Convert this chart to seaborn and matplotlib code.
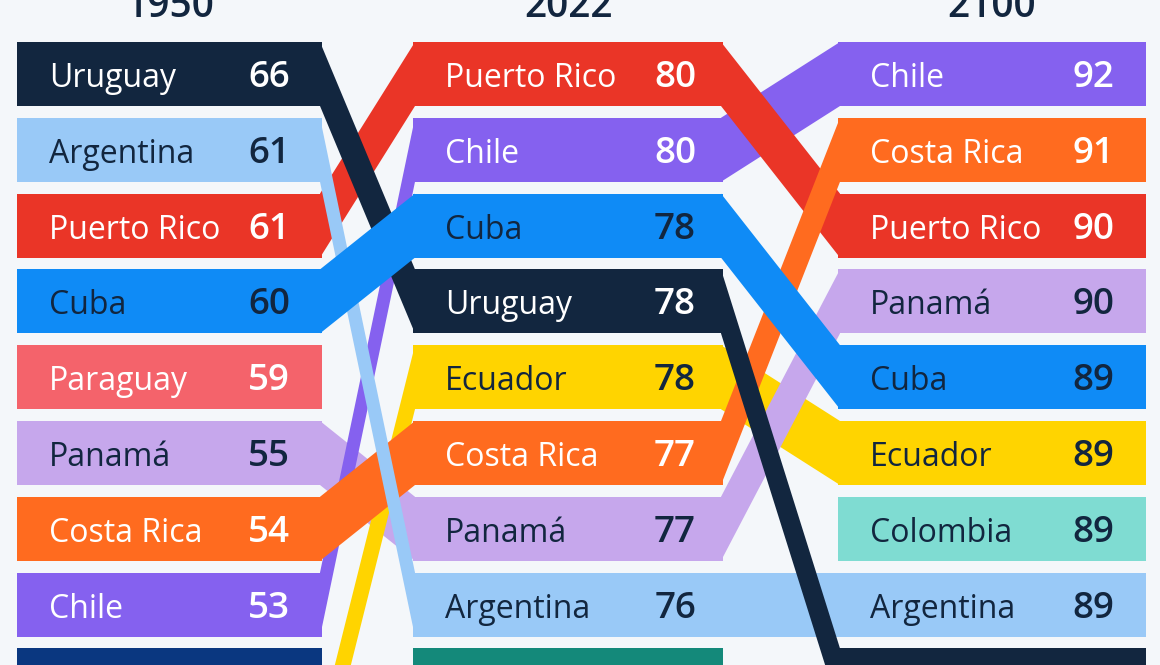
import matplotlib
matplotlib.use("Agg")
import matplotlib.pyplot as plt
import seaborn as sns

# ---------------- data ----------------
years = ["1950", "2022", "2100"]

countries_1950 = ["Uruguay", "Argentina", "Puerto Rico", "Cuba", "Paraguay",
                  "Panamá", "Costa Rica", "Chile", "Venezuela", "Ecuador"]
values_1950 = [66, 61, 61, 60, 59, 55, 54, 53, 51, 49]

countries_2022 = ["Puerto Rico", "Chile", "Cuba", "Uruguay", "Ecuador",
                  "Costa Rica", "Panamá", "Argentina", "México"]
values_2022 = [80, 80, 78, 78, 78, 77, 77, 76, 75]

countries_2100 = ["Chile", "Costa Rica", "Puerto Rico", "Panamá", "Cuba",
                  "Ecuador", "Colombia", "Argentina", "Uruguay"]
values_2100 = [92, 91, 90, 90, 89, 89, 89, 89, 88]

# ---------------- style ----------------
country_colors = {
    "Uruguay": "#12263f",
    "Argentina": "#99c9f7",
    "Puerto Rico": "#ea3527",
    "Cuba": "#0f8bf6",
    "Paraguay": "#f4636b",
    "Panamá": "#c6a7ec",
    "Costa Rica": "#ff6b1f",
    "Chile": "#8561ef",
    "Venezuela": "#0a3780",
    "Ecuador": "#ffd400",
    "Colombia": "#7fdcd2",
    "México": "#14897a",
}
dark_text_countries = {"Argentina", "Cuba", "Panamá", "Ecuador", "Colombia"}
DARK = "#12263f"
BG = "#f4f7fa"

# band stacking order per gap (bottom -> top)
gap_orders = [
    ["Panamá", "Ecuador", "Chile", "Costa Rica", "Puerto Rico", "Argentina", "Uruguay", "Cuba"],
    ["Chile", "Argentina", "Ecuador", "Puerto Rico", "Panamá", "Costa Rica", "Cuba", "Uruguay"],
]

sns.set_theme(style="white")
plt.rcParams["font.family"] = ["Open Sans", "DejaVu Sans"]

W, H = 1160, 665
fig = plt.figure(figsize=(W / 100, H / 100), dpi=100)
fig.patch.set_facecolor(BG)
ax = fig.add_axes([0, 0, 1, 1])
ax.set_facecolor(BG)

pitch = 75.8          # px per row
c0 = 74.0             # px centre of first row
y_bottom = (H - c0) / pitch
ax.set_xlim(0, W)
ax.set_ylim(y_bottom, (0 - c0) / pitch)
ax.axis("off")

col_left = [17, 413, 838]
col_width = [305, 310, 308]
value_margin = [32, 27, 32]
box_h = 64 / pitch

columns = [(countries_1950, values_1950), (countries_2022, values_2022),
           (countries_2100, values_2100)]

# bands
for g in range(2):
    ca = columns[g][0]
    cb = columns[g + 1][0]
    for z, name in enumerate(gap_orders[g]):
        if name in ca and name in cb:
            ra, rb = ca.index(name), cb.index(name)
            xa = col_left[g] + col_width[g] - 2
            xb = col_left[g + 1] + 2
            ax.fill([xa, xb, xb, xa],
                    [ra - box_h / 2, rb - box_h / 2, rb + box_h / 2, ra + box_h / 2],
                    color=country_colors[name], lw=0, zorder=1 + z * 0.01)

# boxes and labels
for ci, (names, vals) in enumerate(columns):
    ranks = list(range(len(names)))
    ax.barh(ranks, [col_width[ci]] * len(names), left=col_left[ci], height=box_h,
            color=[country_colors[n] for n in names], lw=0, zorder=3)
    for r, (n, v) in enumerate(zip(names, vals)):
        if r - 0.2 > y_bottom:
            continue  # label lies below the visible crop
        tc = DARK if n in dark_text_countries else "white"
        ax.text(col_left[ci] + 32, r + 13 / pitch, n, ha="left", va="baseline",
                fontsize=23, color=tc, zorder=4)
        ax.text(col_left[ci] + col_width[ci] - value_margin[ci], r + 13 / pitch, str(v),
                ha="right", va="baseline", fontsize=26.5, fontweight="semibold",
                color=tc, zorder=4)
    ax.text(col_left[ci] + col_width[ci] / 2, (17 - c0) / pitch, years[ci],
            ha="center", va="baseline", fontsize=28, fontweight="semibold",
            color=DARK, zorder=4)

fig.savefig("out.png", dpi=100, facecolor=BG)
